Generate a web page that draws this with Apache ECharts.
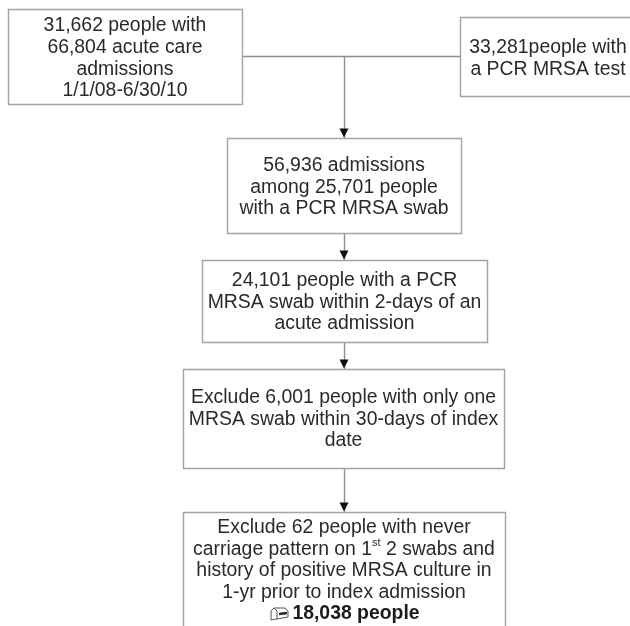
<!DOCTYPE html>
<html>
<head>
<meta charset="utf-8">
<style>
    html, body { margin: 0; padding: 0; background: #fff; }
    #main { width: 630px; height: 626px; }
</style>
<script src="https://cdn.jsdelivr.net/npm/echarts@6/dist/echarts.min.js"></script>
</head>
<body>
<div id="main"></div>
<script>
// box texts, one array per box
var cohortLines = ['31,662 people with', '66,804 acute care', 'admissions', '1/1/08-6/30/10'];
var testLines = ['33,281people with', 'a PCR MRSA test'];
var swabLines = ['56,936 admissions', 'among 25,701 people', 'with a PCR MRSA swab'];
var twoDayLines = ['24,101 people with a PCR', 'MRSA swab within 2-days of an', 'acute admission'];
var excludeOneLines = ['Exclude 6,001 people with only one', 'MRSA swab within 30-days of index', 'date'];
var excludeTwoLines = ['Exclude 62 people with never', 'carriage pattern on 1{sup|st} 2 swabs and', 'history of positive MRSA culture in', '1-yr prior to index admission', '{bold|18,038 people}'];

// layout, in page pixels: left, top, right, bottom, first line centre, line step
var boxLayout = [
    [8, 9, 242, 104, 26, 21.7],
    [460, 17, 640, 96, 48, 21.7],
    [227, 138, 461, 233, 166, 21.5],
    [202, 260, 487, 342, 281, 21.5],
    [183, 369, 504, 468, 398, 21.5],
    [183, 512, 505, 640, 528, 21.5]
];
var boxTexts = [cohortLines, testLines, swabLines, twoDayLines, excludeOneLines, excludeTwoLines];

var connectors = [
    [[242, 56], [460, 56]],
    [[344, 56], [344, 138]],
    [[344, 233], [344, 260]],
    [[344, 342], [344, 369]],
    [[344, 468], [344, 512]]
];
var arrowHeads = [[344, 133], [344, 255], [344, 364], [344, 507]];

var lineColor = '#a3a3a3';
var textColor = '#2a2a2a';
var fontFamily = '"Liberation Sans", Arial, sans-serif';
var fontSize = 19.4;

function renderBox(params, api) {
    var i = params.dataIndex;
    var topLeft = api.coord([api.value(0), api.value(1)]);
    var bottomRight = api.coord([api.value(2), api.value(3)]);
    var children = [{
        type: 'rect',
        shape: {
            x: topLeft[0] + 0.5,
            y: topLeft[1] + 0.5,
            width: bottomRight[0] - topLeft[0],
            height: bottomRight[1] - topLeft[1]
        },
        style: { fill: '#fff', stroke: lineColor, lineWidth: 1.4 }
    }];
    var centre = (topLeft[0] + bottomRight[0]) / 2;
    if (i === 1) {
        // this box runs off the page, its text sits in the visible part
        centre = 548;
    }
    boxTexts[i].forEach(function (line, n) {
        var isBold = line.indexOf('{bold') === 0;
        var y = api.coord([0, api.value(4) + n * api.value(5)])[1];
        children.push({
            type: 'text',
            style: {
                x: centre + (isBold ? 12 : 0),
                y: y,
                text: line,
                align: 'center',
                verticalAlign: 'middle',
                fill: textColor,
                font: fontSize + 'px ' + fontFamily,
                rich: {
                    sup: { fontSize: 11, fontFamily: fontFamily, fill: textColor, verticalAlign: 'top', lineHeight: 24 },
                    bold: { fontSize: fontSize, fontWeight: 'bold', fontFamily: fontFamily, fill: '#1c1c1c' }
                }
            }
        });
        if (isBold) {
            // small mailbox glyph in front of the total
            children.push({
                type: 'polyline',
                shape: { points: [[271, y + 6], [271, y - 3], [274, y - 6], [285, y - 6], [288, y - 3], [288, y + 3], [271, y + 6]] },
                style: { fill: '#fff', stroke: '#555', lineWidth: 1 }
            }, {
                type: 'polyline',
                shape: { points: [[274, y - 6], [277, y - 3], [277, y + 5]] },
                style: { fill: 'none', stroke: '#555', lineWidth: 1 }
            }, {
                type: 'polyline',
                shape: { points: [[279, y], [287, y - 1]] },
                style: { fill: 'none', stroke: '#222', lineWidth: 2.4 }
            });
        }
    });
    return { type: 'group', children: children };
}

var chart = echarts.init(document.getElementById('main'));
chart.setOption({
    animation: false,
    backgroundColor: '#fff',
    grid: { left: 0, right: 0, top: 0, bottom: 0 },
    xAxis: { type: 'value', min: 0, max: 630, show: false },
    yAxis: { type: 'value', min: 0, max: 626, inverse: true, show: false },
    series: [
        {
            type: 'lines',
            coordinateSystem: 'cartesian2d',
            z: 1,
            symbol: 'none',
            lineStyle: { color: '#8f8f8f', width: 1.4, opacity: 1 },
            data: connectors.map(function (c) {
                return { coords: c };
            })
        },
        {
            type: 'scatter',
            z: 1,
            symbol: 'triangle',
            symbolRotate: 180,
            symbolSize: [9, 9],
            itemStyle: { color: '#111', opacity: 1 },
            data: arrowHeads
        },
        {
            type: 'custom',
            coordinateSystem: 'cartesian2d',
            clip: false,
            z: 2,
            renderItem: renderBox,
            encode: { x: [0, 2], y: [1, 3] },
            data: boxLayout
        }
    ]
});
</script>
</body>
</html>
